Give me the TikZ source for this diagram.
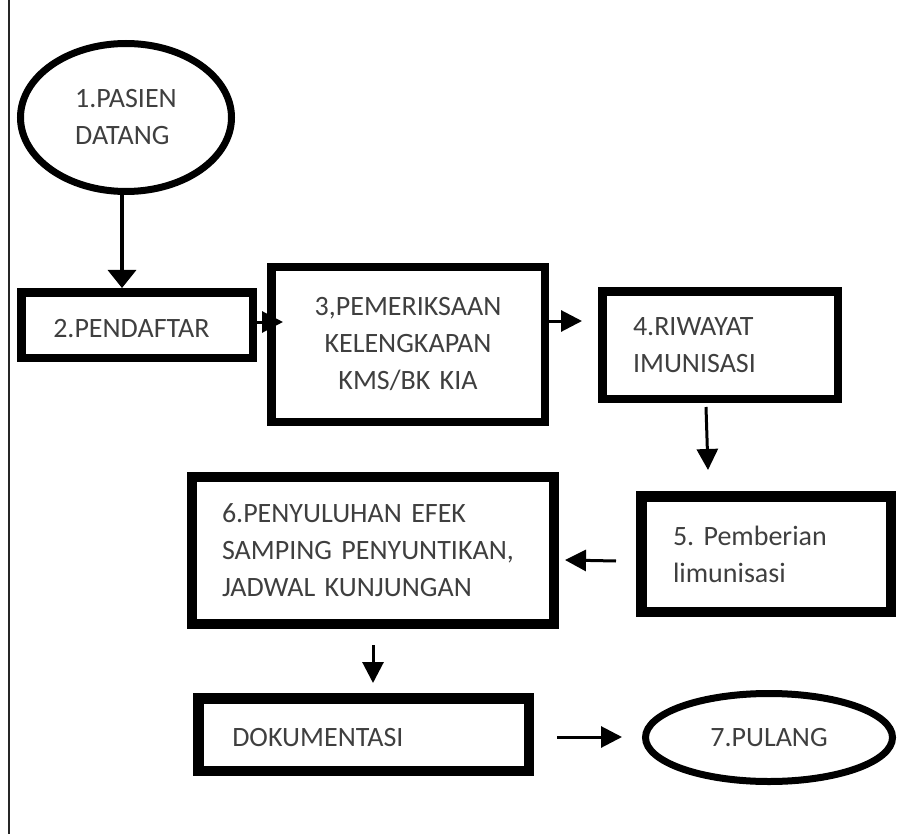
\documentclass[tikz,border=0pt]{standalone}
\usepackage{fontspec}
\setmainfont[WordSpace=0.8]{Carlito}
\usetikzlibrary{arrows.meta,shapes.geometric}
\definecolor{txt}{HTML}{3F3F3F}
\begin{document}
\frenchspacing
\begin{tikzpicture}[x=1pt,y=-1pt,
  lbl/.style={text=txt, font=\fontsize{28}{37}\selectfont},
  box/.style={lbl, draw=black, rectangle, line width=8.5pt, inner ysep=0pt},
  thickbox/.style={box, line width=10.5pt},
  oneline/.style={text height=24pt, text depth=0pt},
  oval/.style={lbl, draw=black, ellipse, line width=7pt, inner sep=0pt, align=left},
  arr/.style={line width=3pt, -{Triangle[length=21pt,width=21pt]}},
  arrbig/.style={line width=3.5pt, -{Triangle[length=18pt,width=28pt]}}
]
\useasboundingbox (0,0) rectangle (899,834);
\draw[line width=2pt, black!85] (9,0) -- (9,834);

% nodes
\node[oval, minimum width=211pt, minimum height=148pt] (e1) at (126,117.5) {1.PASIEN\\DATANG};
\node[box, oneline, minimum width=231.5pt, minimum height=65.5pt, text width=167.5pt, inner xsep=32pt, align=left] (b2) at (137,325) {2.PENDAFTAR};
\node[box, minimum width=273.5pt, minimum height=154.5pt, text width=250pt, inner xsep=11.75pt, align=center] (b3) at (408,344.5) {3,PEMERIKSAAN\\KELENGKAPAN\\KMS/BK KIA};
\node[box, minimum width=235.5pt, minimum height=107.5pt, text width=174pt, inner xsep=30.75pt, align=left] (b4) at (720,345) {4.RIWAYAT\\IMUNISASI};
\node[thickbox, minimum width=249.5pt, minimum height=115.5pt, text width=186pt, inner xsep=31.75pt, align=left] (b5) at (766,554) {5. Pemberian\\limunisasi};
\node[thickbox, line width=10pt, minimum width=362pt, minimum height=147pt, text width=302pt, inner xsep=30pt, align=left] (b6) at (373,550.5) {\mbox{6.PENYULUHAN EFEK}\\\mbox{SAMPING PENYUNTIKAN,}\\\mbox{JADWAL KUNJUNGAN}};
\node[thickbox, oneline, minimum width=330.5pt, minimum height=72.5pt, text width=262.5pt, inner xsep=34pt, align=left] (bd) at (363.5,734.5) {DOKUMENTASI};
\node[oval, minimum width=247pt, minimum height=88pt, align=center] (e7) at (769,737.5) {7.PULANG};

% free ends of connectors
\coordinate (t23) at (283,322);
\coordinate (t34) at (582,321);
\coordinate (s45) at (706,407);
\coordinate (t45) at (708,470);
\coordinate (s56) at (616,561);
\coordinate (t56) at (565,560);
\coordinate (s6d) at (373,645);
\coordinate (t6d) at (373,683);
\coordinate (sd7) at (557,737);
\coordinate (td7) at (622,737);

% connectors
\draw[arrbig] ([xshift=-4pt]e1.south) -- ([xshift=-4pt]e1.south |- b2.north);
\draw[arr] (b2.east |- t23) -- (t23);
\draw[arr] (b3.east |- t34) -- (t34);
\draw[arr] (s45) -- (t45);
\draw[arr] (s56) -- (t56);
\draw[arr] (s6d) -- (t6d);
\draw[arr] (sd7) -- (td7);
\end{tikzpicture}
\end{document}
